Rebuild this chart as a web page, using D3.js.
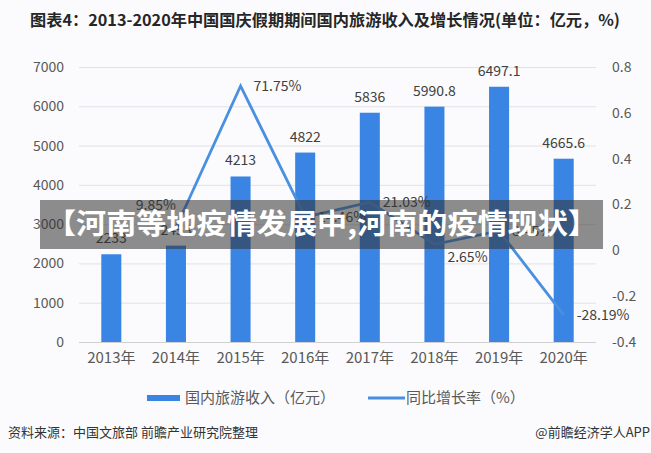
<!DOCTYPE html>
<html>
<head>
<meta charset="utf-8">
<script src="https://cdn.jsdelivr.net/npm/d3@7"></script>
<style>
  html, body { margin: 0; padding: 0; background: #fbfbfd; }
  svg { display: block; }
  text { font-family: "Noto Sans CJK SC", "Noto Sans", sans-serif; }
</style>
</head>
<body>
<svg id="chart" width="651" height="453"></svg>
<script>
// ---- data ----
const years = ["2013年", "2014年", "2015年", "2016年", "2017年", "2018年", "2019年", "2020年"];
const revenue = [2233, 2453, 4213, 4822, 5836, 5990.8, 6497.1, 4665.6];
const revenueLabels = ["2233", "2453", "4213", "4822", "5836", "5990.8", "6497.1", "4665.6"];
const growth = [null, 0.0985, 0.7175, 0.1446, 0.2103, 0.0265, 0.0845, -0.2819];
const growthLabels = [null, "9.85%", "71.75%", "14.46%", "21.03%", "2.65%", "8.45%", "-28.19%"];
const leftTicks = [0, 1000, 2000, 3000, 4000, 5000, 6000, 7000];
const rightTicks = [-0.4, -0.2, 0, 0.2, 0.4, 0.6, 0.8];
const rightTickLabels = ["-0.4", "-0.2", "0", "0.2", "0.4", "0.6", "0.8"];
const growthLabelSide = [null, "aboveLeft", "right", "right", "right", "below", "right", "right"];
const titleText = "图表4：2013-2020年中国国庆假期期间国内旅游收入及增长情况(单位：亿元，%)";
const legendNames = ["国内旅游收入（亿元）", "同比增长率（%）"];
const sourceText = "资料来源：中国文旅部 前瞻产业研究院整理";
const creditText = "@前瞻经济学人APP";
const bannerText = "【河南等地疫情发展中,河南的疫情现状】";

// ---- styles ----
const barColor = "#3a84e3";
const lineColor = "#4a90e2";
const textColor = "#404040";
const axisTextColor = "#595959";

const svg = d3.select("#chart");
svg.append("rect").attr("width", 651).attr("height", 453).attr("fill", "#fbfbfd");

const plotLeft = 79, plotRight = 596, plotTop = 67, plotBottom = 342;

const x = d3.scaleBand().domain(years).range([plotLeft, plotRight])
  .paddingInner(0.69).paddingOuter(0.345);
const yL = d3.scaleLinear().domain([0, 7000]).range([plotBottom, plotTop]);
const yR = d3.scaleLinear().domain([-0.4, 0.8]).range([plotBottom, plotTop]);

// title
svg.append("text")
  .attr("x", 30).attr("y", 26)
  .attr("font-size", 16).attr("font-weight", 700)
  .attr("fill", "#262626")
  .attr("textLength", 590).attr("lengthAdjust", "spacingAndGlyphs")
  .text(titleText);

// gridlines
svg.append("g").selectAll("line").data(leftTicks).join("line")
  .attr("x1", plotLeft).attr("x2", plotRight)
  .attr("y1", d => yL(d) + 0.5).attr("y2", d => yL(d) + 0.5)
  .attr("stroke", d => d === 0 ? "#d0d0d0" : "#e2e2e6").attr("stroke-width", 1);

// left axis
const leftAxis = d3.axisLeft(yL).tickValues(leftTicks).tickSize(0).tickPadding(0).tickFormat(d3.format("d"));
const gL = svg.append("g").attr("transform", "translate(64,0)").call(leftAxis);
gL.select(".domain").remove();
gL.selectAll("text").attr("font-size", 14).attr("fill", axisTextColor)
  .attr("font-family", "'Noto Sans', sans-serif");

// right axis
const rightAxis = d3.axisRight(yR).tickValues(rightTicks).tickSize(0).tickPadding(0)
  .tickFormat((d, i) => rightTickLabels[i]);
const gR = svg.append("g").attr("transform", "translate(612,0)").call(rightAxis);
gR.select(".domain").remove();
gR.selectAll("text").attr("font-size", 14).attr("fill", axisTextColor)
  .attr("font-family", "'Noto Sans', sans-serif");

// x axis
const xAxis = d3.axisBottom(x).tickSize(0).tickPadding(0);
const gX = svg.append("g").attr("transform", `translate(0,${plotBottom + 10})`).call(xAxis);
gX.select(".domain").remove();
gX.selectAll("text").attr("font-size", 15).attr("fill", axisTextColor);

// bars
svg.append("g").selectAll("rect").data(revenue).join("rect")
  .attr("x", (d, i) => x(years[i]))
  .attr("width", x.bandwidth())
  .attr("y", d => yL(d))
  .attr("height", d => yL(0) - yL(d))
  .attr("fill", barColor);

// bar labels
svg.append("g").selectAll("text").data(revenue).join("text")
  .attr("x", (d, i) => x(years[i]) + x.bandwidth() / 2)
  .attr("y", d => yL(d) - 11)
  .attr("text-anchor", "middle")
  .attr("font-size", 14).attr("fill", textColor)
  .attr("font-family", "'Noto Sans', sans-serif")
  .text((d, i) => revenueLabels[i]);

// line
const pts = growth.map((g, i) => ({ g, i })).filter(p => p.g !== null);
const cx = p => x(years[p.i]) + x.bandwidth() / 2;
const line = d3.line().x(cx).y(p => yR(p.g));
svg.append("path").datum(pts)
  .attr("d", line)
  .attr("fill", "none").attr("stroke", lineColor).attr("stroke-width", 2.8)
  .attr("stroke-linejoin", "miter");

// line labels
svg.append("g").selectAll("text").data(pts).join("text")
  .attr("x", p => {
    const s = growthLabelSide[p.i];
    if (s === "aboveLeft") return cx(p);
    return cx(p) + 13;
  })
  .attr("y", p => {
    const s = growthLabelSide[p.i];
    if (s === "aboveLeft") return yR(p.g) - 18;
    if (s === "below") return yR(p.g) + 18;
    return yR(p.g) + 5;
  })
  .attr("text-anchor", p => growthLabelSide[p.i] === "aboveLeft" ? "end" : "start")
  .attr("font-size", 14).attr("fill", textColor)
  .attr("font-family", "'Noto Sans', sans-serif")
  .text(p => growthLabels[p.i]);

// legend
const lg = svg.append("g");
lg.append("rect").attr("x", 147).attr("y", 395).attr("width", 33).attr("height", 6).attr("fill", barColor);
lg.append("text").attr("x", 185).attr("y", 403).attr("font-size", 15).attr("fill", axisTextColor).text(legendNames[0]);
lg.append("line").attr("x1", 368).attr("x2", 405).attr("y1", 398).attr("y2", 398)
  .attr("stroke", lineColor).attr("stroke-width", 3);
lg.append("text").attr("x", 406).attr("y", 403).attr("font-size", 15).attr("fill", axisTextColor).text(legendNames[1]);

// footer
svg.append("text").attr("x", 8).attr("y", 437).attr("font-size", 13).attr("fill", "#333")
  .text(sourceText);
svg.append("text").attr("x", 650).attr("y", 437).attr("text-anchor", "end")
  .attr("font-size", 13).attr("fill", "#333").text(creditText);

// overlay banner
svg.append("rect").attr("x", 40).attr("y", 200).attr("width", 563).attr("height", 49)
  .attr("fill", "rgba(50,50,50,0.55)");
svg.append("text").attr("x", 46).attr("y", 234)
  .attr("font-size", 28).attr("font-weight", 700).attr("fill", "#ffffff")
  .attr("textLength", 552).attr("lengthAdjust", "spacingAndGlyphs")
  .text(bannerText);
</script>
</body>
</html>
